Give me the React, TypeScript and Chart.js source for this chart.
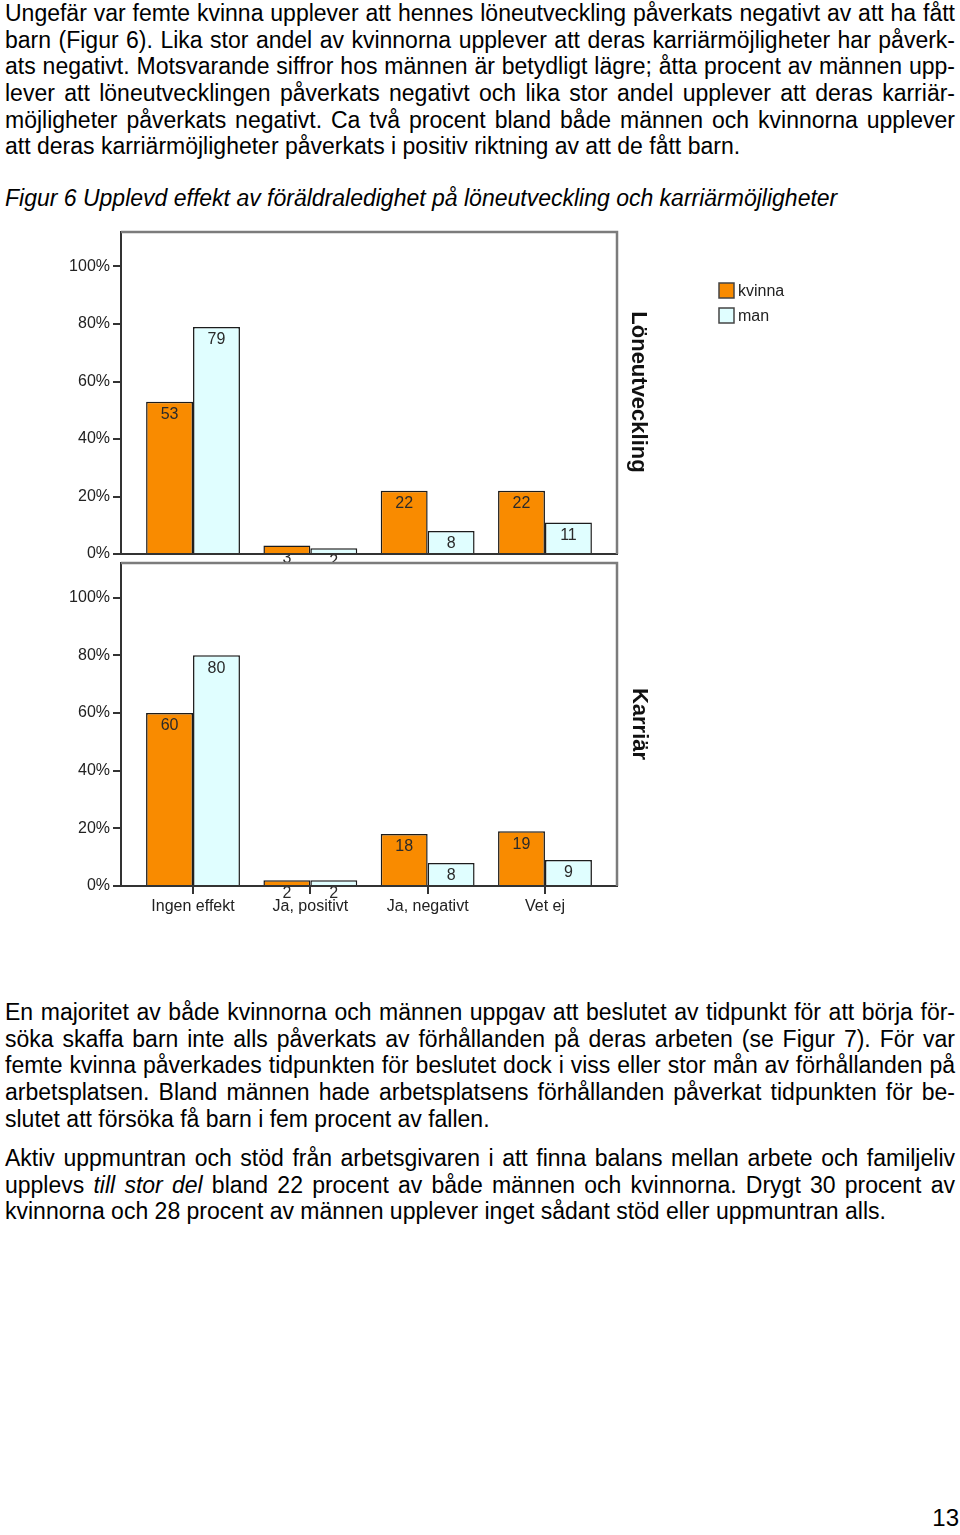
import React, { useEffect, useRef } from 'react';
import { Chart, registerables } from 'chart.js';

Chart.register(...registerables);

// ---------- data ----------
const categories = ['Ingen effekt', 'Ja, positivt', 'Ja, negativt', 'Vet ej'];
const seriesLabels = ['kvinna', 'man'];
const loneKvinna = [53, 3, 22, 22];
const loneMan = [79, 2, 8, 11];
const karriarKvinna = [60, 2, 18, 19];
const karriarMan = [80, 2, 8, 9];
const yTickValues = [0, 20, 40, 60, 80, 100];
const panelTitles = ['Löneutveckling', 'Karriär'];

// ---------- page text ----------
type Seg = string | { i: string };
const p1Lines: Seg[][] = [
  ['Ungefär var femte kvinna upplever att hennes löneutveckling påverkats negativt av att ha fått'],
  ['barn (Figur 6). Lika stor andel av kvinnorna upplever att deras karriärmöjligheter har påverk-'],
  ['ats negativt. Motsvarande siffror hos männen är betydligt lägre; åtta procent av männen upp-'],
  ['lever att löneutvecklingen påverkats negativt och lika stor andel upplever att deras karriär-'],
  ['möjligheter påverkats negativt. Ca två procent bland både männen och kvinnorna upplever'],
  ['att deras karriärmöjligheter påverkats i positiv riktning av att de fått barn.'],
];
const caption = 'Figur 6 Upplevd effekt av föräldraledighet på löneutveckling och karriärmöjligheter';
const p2Lines: Seg[][] = [
  ['En majoritet av både kvinnorna och männen uppgav att beslutet av tidpunkt för att börja för-'],
  ['söka skaffa barn inte alls påverkats av förhållanden på deras arbeten (se Figur 7). För var'],
  ['femte kvinna påverkades tidpunkten för beslutet dock i viss eller stor mån av förhållanden på'],
  ['arbetsplatsen. Bland männen hade arbetsplatsens förhållanden påverkat tidpunkten för be-'],
  ['slutet att försöka få barn i fem procent av fallen.'],
];
const p3Lines: Seg[][] = [
  ['Aktiv uppmuntran och stöd från arbetsgivaren i att finna balans mellan arbete och familjeliv'],
  ['upplevs ', { i: 'till stor del' }, ' bland 22 procent av både männen och kvinnorna. Drygt 30 procent av'],
  ['kvinnorna och 28 procent av männen upplever inget sådant stöd eller uppmuntran alls.'],
];
const pageNumber = '13';

// ---------- styles ----------
const ORANGE = '#F98B00';
const LIGHT = '#E0FEFF';
const EDGE = '#1c1c1c';
const AXIS = '#333333';
const FRAME = '#7c7c7c';
const FONT = "'Liberation Sans', Arial, Helvetica, sans-serif";

const framePlugin = {
  id: 'frame',
  beforeDatasetsDraw(chart: any) {
    const { ctx, chartArea: a } = chart;
    ctx.save();
    ctx.strokeStyle = FRAME;
    ctx.lineWidth = 2.5;
    ctx.beginPath();
    ctx.moveTo(a.left, a.top);
    ctx.lineTo(a.right, a.top);
    ctx.lineTo(a.right, a.bottom);
    ctx.stroke();
    ctx.restore();
  },
};

const valuePlugin = {
  id: 'values',
  afterDatasetsDraw(chart: any) {
    const { ctx, chartArea: a, width } = chart;
    ctx.font = `16px ${FONT}`;
    ctx.fillStyle = '#2a2a2a';
    ctx.textAlign = 'center';
    ctx.textBaseline = 'middle';
    chart.data.datasets.forEach((ds: any, di: number) => {
      const meta = chart.getDatasetMeta(di);
      meta.data.forEach((el: any, i: number) => {
        const cy = el.y + 13;
        ctx.save();
        if (cy + 6 > a.bottom) {
          // label of a very short bar: only the part below the axis shows
          ctx.beginPath();
          ctx.rect(0, a.bottom + 1, width, 40);
          ctx.clip();
        }
        ctx.fillText(String(ds.data[i].y), el.x, cy);
        ctx.restore();
      });
    });
  },
};

function makeTitlePlugin(title: string, bx: number, cy: number) {
  return {
    id: 'panelTitle',
    afterDraw(chart: any) {
      const { ctx } = chart;
      ctx.save();
      ctx.translate(bx, cy);
      ctx.rotate(Math.PI / 2);
      ctx.font = `bold 22px ${FONT}`;
      ctx.fillStyle = '#111';
      ctx.textAlign = 'center';
      ctx.textBaseline = 'alphabetic';
      ctx.fillText(title, 0, 0);
      ctx.restore();
    },
  };
}

const legendPlugin = {
  id: 'customLegend',
  afterDraw(chart: any) {
    const { ctx } = chart;
    const colors = [ORANGE, LIGHT];
    ctx.save();
    ctx.font = `16px ${FONT}`;
    ctx.textAlign = 'left';
    ctx.textBaseline = 'middle';
    chart.data.datasets.forEach((ds: any, i: number) => {
      const y = 58 + i * 25;
      ctx.fillStyle = colors[i];
      ctx.fillRect(719, y, 15, 15);
      ctx.strokeStyle = '#444';
      ctx.lineWidth = 1.5;
      ctx.strokeRect(719, y, 15, 15);
      ctx.fillStyle = '#222';
      ctx.fillText(ds.label, 738, y + 9);
    });
    ctx.restore();
  },
};

interface PanelProps {
  kvinna: number[];
  man: number[];
  title: string;
  titleX: number;
  titleY: number;
  showX: boolean;
  showLegend: boolean;
  top: number;
  height: number;
  xHeight: number;
}

function PanelChart(p: PanelProps) {
  const ref = useRef<HTMLCanvasElement>(null);
  useEffect(() => {
    const canvas = ref.current!;
    const plugins: any[] = [framePlugin, valuePlugin, makeTitlePlugin(p.title, p.titleX, p.titleY)];
    if (p.showLegend) plugins.push(legendPlugin);
    const chart = new Chart(canvas, {
      type: 'bar',
      data: {
        datasets: [
          {
            label: seriesLabels[0],
            data: p.kvinna.map((v, i) => ({ x: i, y: v })),
            backgroundColor: ORANGE,
            borderColor: EDGE,
            borderWidth: 1.5,
            categoryPercentage: 0.8,
            barPercentage: 1,
          },
          {
            label: seriesLabels[1],
            data: p.man.map((v, i) => ({ x: i, y: v })),
            backgroundColor: LIGHT,
            borderColor: EDGE,
            borderWidth: 1.5,
            categoryPercentage: 0.8,
            barPercentage: 1,
          },
        ],
      } as any,
      options: {
        responsive: false,
        animation: false,
        devicePixelRatio: 1,
        events: [],
        layout: { padding: { top: 7, right: 203, left: 0, bottom: 0 } },
        plugins: { legend: { display: false }, tooltip: { enabled: false } },
        scales: {
          x: {
            type: 'linear',
            offset: false,
            bounds: 'data',
            min: -0.614,
            max: 3.614,
            afterBuildTicks: (s: any) => {
              s.ticks = categories.map((_, i) => ({ value: i }));
            },
            afterFit: (s: any) => {
              s.height = p.xHeight;
              s.paddingLeft = 0;
              s.paddingRight = 0;
              s.paddingTop = 0;
              s.paddingBottom = 0;
            },
            ticks: {
              display: p.showX,
              autoSkip: false,
              maxRotation: 0,
              padding: 3,
              color: '#222',
              font: { family: FONT, size: 16 },
              callback: (v: any) => categories[v] ?? '',
            },
            grid: {
              display: true,
              offset: false,
              drawOnChartArea: false,
              drawTicks: p.showX,
              tickLength: 8,
              color: AXIS,
              lineWidth: 2,
            },
            border: { display: true, color: AXIS, width: 2 },
          },
          y: {
            min: 0,
            max: 112,
            afterBuildTicks: (s: any) => {
              s.ticks = yTickValues.map((v) => ({ value: v }));
            },
            afterFit: (s: any) => {
              s.width = 121;
              s.paddingLeft = 0;
              s.paddingRight = 0;
              s.paddingTop = 0;
              s.paddingBottom = 0;
            },
            ticks: {
              padding: 3,
              color: '#222',
              font: { family: FONT, size: 16 },
              callback: (v: any) => `${v}%`,
            },
            grid: {
              display: true,
              drawOnChartArea: false,
              drawTicks: true,
              tickLength: 8,
              color: AXIS,
              lineWidth: 2,
            },
            border: { display: true, color: AXIS, width: 2 },
          },
        },
      } as any,
      plugins,
    });
    return () => chart.destroy();
  }, []);
  return (
    <canvas
      ref={ref}
      width={820}
      height={p.height}
      style={{ position: 'absolute', left: 0, top: p.top, width: 820, height: p.height, display: 'block' }}
    />
  );
}

function renderSeg(s: Seg, k: number) {
  if (typeof s === 'string') return <React.Fragment key={k}>{s}</React.Fragment>;
  return (
    <i key={k} style={{ fontStyle: 'italic' }}>
      {s.i}
    </i>
  );
}

function Paragraph({ lines, top }: { lines: Seg[][]; top: number }) {
  return (
    <div style={{ position: 'absolute', left: 5, top, width: 950 }}>
      {lines.map((ln, idx) => {
        const last = idx === lines.length - 1;
        return (
          <div
            key={idx}
            style={{
              textAlign: last ? 'left' : 'justify',
              textAlignLast: last ? 'left' : 'justify',
              height: 26.7,
              overflow: 'visible',
            } as any}
          >
            {ln.map(renderSeg)}
          </div>
        );
      })}
    </div>
  );
}

export default function App() {
  return (
    <div
      style={{
        position: 'absolute',
        left: 0,
        top: 0,
        width: 960,
        height: 1535,
        background: '#fff',
        color: '#000',
        fontFamily: FONT,
        fontSize: 23,
        lineHeight: '26.7px',
        overflow: 'hidden',
      }}
    >
      <Paragraph lines={p1Lines} top={0} />
      <div style={{ position: 'absolute', left: 5, top: 185, fontStyle: 'italic', whiteSpace: 'nowrap' }}>{caption}</div>
      <PanelChart
        kvinna={loneKvinna}
        man={loneMan}
        title={panelTitles[0]}
        titleX={632}
        titleY={167}
        showX={false}
        showLegend={true}
        top={225}
        height={337}
        xHeight={8}
      />
      <PanelChart
        kvinna={karriarKvinna}
        man={karriarMan}
        title={panelTitles[1]}
        titleX={633}
        titleY={168}
        showX={true}
        showLegend={false}
        top={556}
        height={370}
        xHeight={40}
      />
      <Paragraph lines={p2Lines} top={999} />
      <Paragraph lines={p3Lines} top={1145} />
      <div
        style={{
          position: 'absolute',
          right: 1,
          top: 1506,
          fontSize: 24,
          lineHeight: '24px',
        }}
      >
        {pageNumber}
      </div>
    </div>
  );
}
